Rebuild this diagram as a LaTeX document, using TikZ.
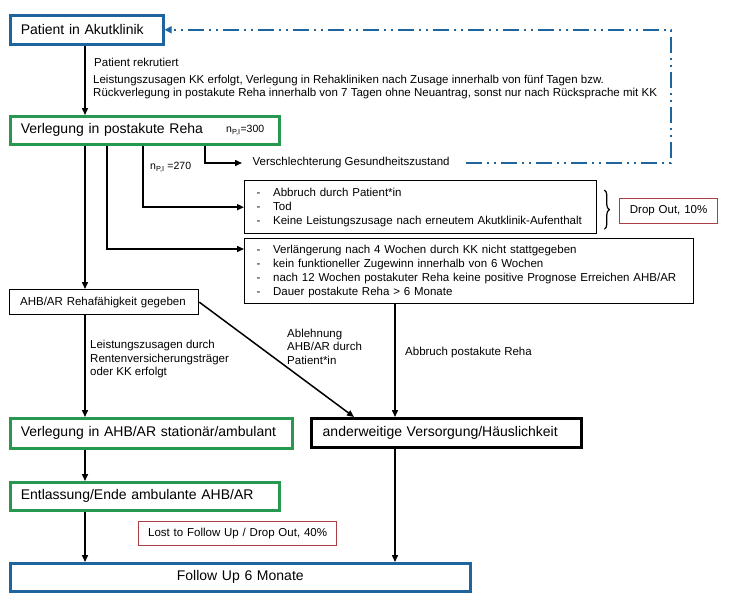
\documentclass[tikz,border=0pt]{standalone}
\usepackage{fontspec}
\setmainfont{Liberation Sans}
\usetikzlibrary{arrows.meta,decorations.pathreplacing}
\definecolor{cblue}{RGB}{30,100,158}
\definecolor{cgreen}{RGB}{38,152,80}
\definecolor{cred}{RGB}{172,62,72}
\begin{document}
\begin{tikzpicture}[x=1pt,y=-1pt,
  big/.style={font=\fontsize{14}{16}\selectfont},
  small/.style={font=\fontsize{11.5}{13.4}\selectfont},
  tiny/.style={font=\fontsize{10.5}{12}\selectfont},
  bx/.style={anchor=north west,inner ysep=0pt,align=left},
  bluebox/.style={bx,draw=cblue,line width=2.6pt,big},
  greenbox/.style={bx,draw=cgreen,line width=2.6pt,big},
  thinbox/.style={bx,draw=black,line width=1.3pt,small},
  redbox/.style={bx,draw=cred,line width=1.2pt,small,align=center},
  lbl/.style={inner sep=0pt,anchor=west,align=left,small},
  arr/.style={line width=1.5pt,-{Triangle[length=7pt,width=6pt]}},
  ln/.style={line width=1.5pt},
  dd/.style={draw=cblue,line width=2.4pt,dash pattern=on 16pt off 5pt on 2pt off 5pt on 2pt off 5pt,-{Triangle[length=7pt,width=7pt]}},
]
\useasboundingbox (0,0) rectangle (751,600);
\fill[white] (0,0) rectangle (751,600);

% boxes
\node[bluebox,minimum width=153pt,minimum height=29pt,text width=132pt,inner xsep=10.5pt] (pat) at (9,14) {Patient in Akutklinik};
\node[greenbox,minimum width=269pt,minimum height=28pt,text width=248pt,inner xsep=10.5pt] (verl) at (9,115) {Verlegung in postakute Reha};
\node[lbl,tiny] (n300) at (226,130) {n\textsubscript{P,I}=300};
\node[thinbox,minimum width=352pt,minimum height=53pt,text width=328pt,inner xsep=12pt] (box1) at (244,180)
  {\makebox[16.5pt][l]{-}Abbruch durch Patient*in\\[0.6pt]
   \makebox[16.5pt][l]{-}Tod\\[0.6pt]
   \makebox[16.5pt][l]{-}Keine Leistungszusage nach erneutem Akutklinik-Aufenthalt};
\node[thinbox,minimum width=449pt,minimum height=65pt,text width=425pt,inner xsep=12pt] (box2) at (244,238)
  {\makebox[16.5pt][l]{-}Verlängerung nach 4 Wochen durch KK nicht stattgegeben\\[0.6pt]
   \makebox[16.5pt][l]{-}kein funktioneller Zugewinn innerhalb von 6 Wochen\\[0.6pt]
   \makebox[16.5pt][l]{-}nach 12 Wochen postakuter Reha keine positive Prognose Erreichen AHB/AR\\[0.6pt]
   \makebox[16.5pt][l]{-}Dauer postakute Reha > 6 Monate};
\node[redbox,minimum width=98pt,minimum height=25pt,text width=90pt,inner xsep=4pt] (do10) at (619,198) {Drop Out, 10\%};
\node[thinbox,minimum width=189pt,minimum height=25pt,text width=168pt,inner xsep=10.5pt] (ahb) at (9,289) {AHB/AR Rehafähigkeit gegeben};
\node[greenbox,minimum width=282pt,minimum height=30pt,text width=261pt,inner xsep=10.5pt] (vahb) at (9,417) {Verlegung in AHB/AR stationär/ambulant};
\node[bx,draw=black,line width=3.4pt,big,minimum width=269pt,minimum height=29pt,text width=248pt,inner xsep=11pt] (anders) at (310,417) {anderweitige Versorgung/Häuslichkeit};
\node[greenbox,minimum width=269pt,minimum height=28pt,text width=248pt,inner xsep=10.5pt] (entl) at (9,481) {Entlassung/Ende ambulante AHB/AR};
\node[redbox,minimum width=198pt,minimum height=24pt,text width=190pt,inner xsep=4pt] (lost) at (138,521) {Lost to Follow Up / Drop Out, 40\%};
\node[bluebox,align=center,minimum width=460pt,minimum height=28pt,text width=440pt,inner xsep=10pt] (fu) at (9,562) {Follow Up 6 Monate};

% labels
\node[lbl] (rekr) at (94,62) {Patient rekrutiert};
\node[lbl,font=\fontsize{11.5}{13}\selectfont] (leist) at (93,87) {Leistungszusagen KK erfolgt, Verlegung in Rehakliniken nach Zusage innerhalb von fünf Tagen bzw.\\Rückverlegung in postakute Reha innerhalb von 7 Tagen ohne Neuantrag, sonst nur nach Rücksprache mit KK};
\node[lbl,inner xsep=10.5pt] (versch) at (242,163) {Verschlechterung Gesundheitszustand};
\node[lbl,tiny] (n270) at (150,167) {n\textsubscript{P,I} =270};
\node[lbl] (abbr) at (405,353) {Abbruch postakute Reha};
\node[lbl,font=\fontsize{11.5}{13.5}\selectfont] (lzd) at (90,359.5) {Leistungszusagen durch\\Rentenversicherungsträger\\oder KK erfolgt};
\node[lbl,font=\fontsize{11.5}{13.5}\selectfont] (abl) at (287,346.5) {Ablehnung\\AHB/AR durch\\Patient*in};

% helper coordinates
\coordinate (xa) at (85,0);
\coordinate (xb) at (107,0);
\coordinate (xc) at (143,0);
\coordinate (xd) at (205,0);
\coordinate (xe) at (395,0);
\coordinate (xf) at (354,0);
\coordinate (dr) at (671,0);

% connectors
\draw[arr] (pat.south -| xa) -- (verl.north -| xa);
\draw[arr] (verl.south -| xa) -- (ahb.north -| xa);
\draw[arr] (verl.south -| xb) |- ([yshift=-11pt]box2.north west);
\draw[arr] (verl.south -| xc) |- (box1.west);
\draw[arr] (verl.south -| xd) |- (versch.west);
\draw[dd] ([xshift=6pt]versch.east) -| (dr |- pat.east) -- (pat.east);
\draw[arr] (box2.south -| xe) -- (anders.north -| xe);
\draw[arr] (ahb.south -| xa) -- (vahb.north -| xa);
\draw[arr] (ahb.east) -- (anders.north -| xf);
\draw[arr] (vahb.south -| xa) -- (entl.north -| xa);
\draw[arr] (entl.south -| xa) -- (fu.north -| xa);
\draw[arr] (anders.south -| xe) -- (fu.north -| xe);

% brace
\draw[line width=1.2pt,decorate,decoration={brace,amplitude=5pt}] ([xshift=7pt,yshift=-10pt]box1.north east) -- ([xshift=7pt,yshift=5pt]box1.south east);
\end{tikzpicture}
\end{document}
